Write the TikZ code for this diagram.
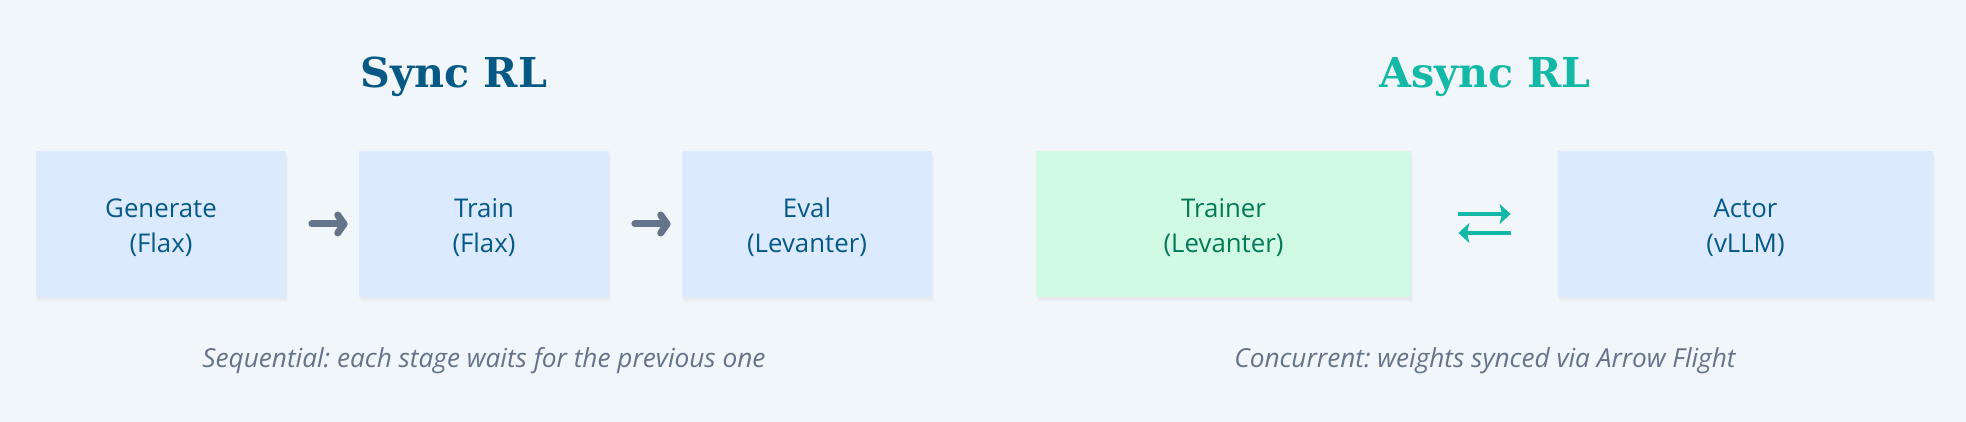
\documentclass[tikz,border=0pt]{standalone}
\usepackage{fontspec}
\setmainfont{Open Sans}
\newfontfamily\titlefont{DejaVu Serif}
\frenchspacing
\usetikzlibrary{arrows.meta,shadows}

\definecolor{pagebg}{HTML}{F0F6FA}
\definecolor{syncblue}{HTML}{075985}
\definecolor{asyncteal}{HTML}{14B8A6}
\definecolor{boxblue}{HTML}{DBEAFE}
\definecolor{boxgreen}{HTML}{D1FAE5}
\definecolor{traingreen}{HTML}{047857}
\definecolor{slate}{HTML}{64748B}

\newcommand\cardtext[2]{\rule{0pt}{13.5pt}#1\\(#2)}

\begin{document}
\begin{tikzpicture}[x=0.5pt,y=-0.5pt,
    title/.style={font=\titlefont\bfseries\fontsize{20.6}{24}\selectfont, anchor=base},
    card/.style={fill=boxblue, text=syncblue, minimum width=125pt, minimum height=73pt,
      inner sep=0pt, align=center, font=\fontsize{12.9}{17.5}\selectfont,
      drop shadow={shadow xshift=0.6pt, shadow yshift=-1.6pt, opacity=0.05},
      drop shadow={shadow xshift=1.2pt, shadow yshift=-2.6pt, opacity=0.03}},
    wide/.style={card, minimum width=187.5pt},
    caption/.style={font=\itshape\fontsize{13.1}{16}\selectfont, text=slate, anchor=base},
    seqarrow/.style={line width=3.5pt, draw=slate, line cap=round,
      -{Straight Barb[length=3.2pt,width=9pt,round]}, shorten <=12.75pt, shorten >=5.5pt},
    syncarrow/.style={line width=1.65pt, draw=asyncteal,
      -{Stealth[length=5.5pt,width=10pt,inset=1.2pt]}, shorten <=23.5pt, shorten >=23.5pt}]

  \fill [pagebg] (0,0) rectangle (1966,422);
  \useasboundingbox (0,0) rectangle (1966,422);

  \node [title, text=syncblue] (synctitle) at (454,88) {Sync RL};
  \node [title, text=asyncteal] (asynctitle) at (1485,88) {Async RL};

  \node [card] (generate) at (161,224) {\cardtext{Generate}{Flax}};
  \node [card] (train) at (484,224) {\cardtext{Train}{Flax}};
  \node [card] (eval) at (807,224) {\cardtext{Eval}{Levanter}};

  \node [wide, fill=boxgreen, text=traingreen] (trainer) at (1223.5,224) {\cardtext{Trainer}{Levanter}};
  \node [wide] (actor) at (1745.5,224) {\cardtext{Actor}{vLLM}};

  \draw [seqarrow] (generate.east) -- (train.west);
  \draw [seqarrow] (train.east) -- (eval.west);

  \draw [syncarrow] ([yshift=5pt]trainer.east) -- ([yshift=5pt]actor.west);
  \draw [syncarrow] ([yshift=-4.5pt]actor.west) -- ([yshift=-4.5pt]trainer.east);

  \node [caption] (synccaption) at (484,368) {Sequential: each stage waits for the previous one};
  \node [caption] (asynccaption) at (1485,368) {Concurrent: weights synced via Arrow Flight};
\end{tikzpicture}
\end{document}
